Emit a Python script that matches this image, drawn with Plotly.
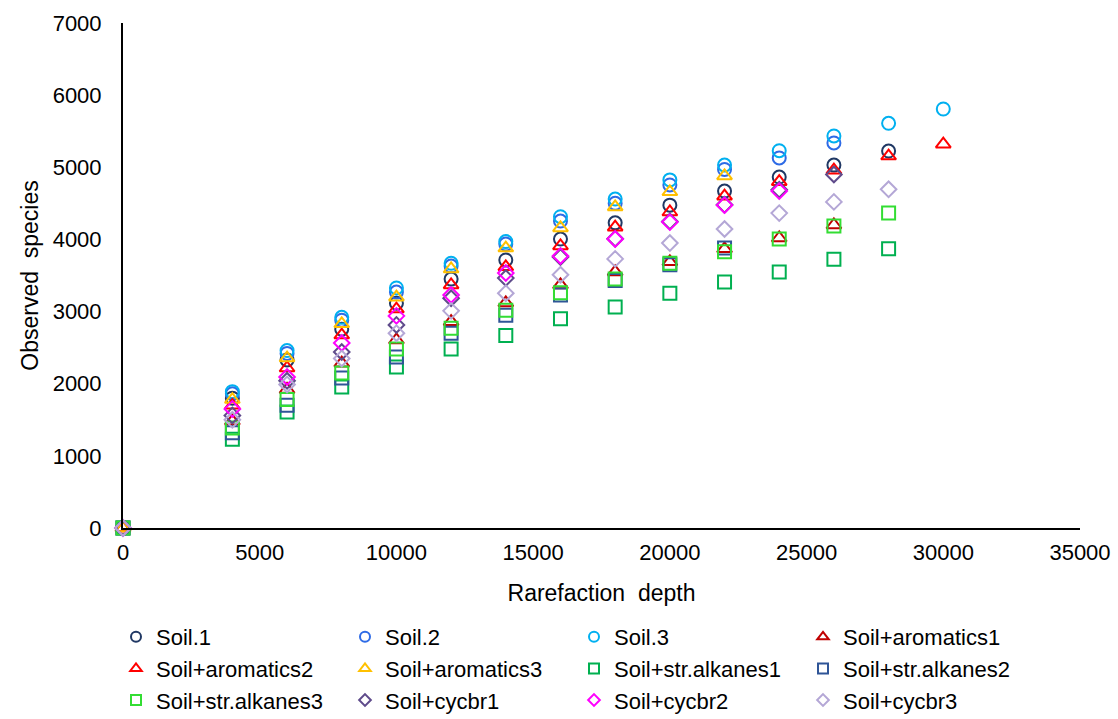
import plotly.graph_objects as go

depths = [0, 4000, 6000, 8000, 10000, 12000, 14000, 16000, 18000, 20000, 22000, 24000, 26000, 28000, 30000]

names = ["Soil.1", "Soil.2", "Soil.3", "Soil+aromatics1", "Soil+aromatics2", "Soil+aromatics3",
         "Soil+str.alkanes1", "Soil+str.alkanes2", "Soil+str.alkanes3",
         "Soil+cycbr1", "Soil+cycbr2", "Soil+cycbr3"]

soil1 = [0, 1800, 2330, 2756, 3115, 3450, 3715, 4005, 4230, 4475, 4670, 4865, 5030, 5225]
soil2 = [0, 1860, 2420, 2880, 3270, 3630, 3935, 4255, 4500, 4755, 4970, 5130, 5337]
soil3 = [0, 1890, 2460, 2920, 3327, 3670, 3970, 4315, 4560, 4825, 5030, 5230, 5434, 5610, 5808]
arom1 = [0, 1480, 1920, 2285, 2606, 2860, 3120, 3370, 3550, 3690, 3870, 4020, 4200]
arom2 = [0, 1700, 2218, 2675, 3035, 3370, 3620, 3910, 4170, 4380, 4600, 4800, 4960, 5155, 5320]
arom3 = [0, 1780, 2356, 2830, 3200, 3590, 3880, 4160, 4450, 4660, 4880]
alk1 = [0, 1230, 1608, 1955, 2230, 2480, 2670, 2900, 3065, 3255, 3410, 3550, 3725, 3870]
alk2 = [0, 1320, 1700, 2080, 2370, 2700, 2950, 3230, 3430, 3650, 3880]
alk3 = [0, 1385, 1780, 2150, 2480, 2770, 3020, 3260, 3450, 3670, 3830, 4005, 4185, 4365]
cyc1 = [0, 1560, 2040, 2440, 2815, 3185, 3465, 3755, 4010, 4250, 4480, 4690, 4900]
cyc2 = [0, 1650, 2093, 2564, 2940, 3230, 3535, 3770, 4005, 4240, 4475, 4670]
cyc3 = [0, 1500, 1990, 2350, 2700, 3010, 3255, 3510, 3730, 3950, 4145, 4365, 4520, 4695]

x_ticks = [0, 5000, 10000, 15000, 20000, 25000, 30000, 35000]
y_ticks = [0, 1000, 2000, 3000, 4000, 5000, 6000, 7000]

series = [soil1, soil2, soil3, arom1, arom2, arom3, alk1, alk2, alk3, cyc1, cyc2, cyc3]
colors = ["#203864", "#2E6BE6", "#00B0F0", "#C00000", "#FF0000", "#FFC000",
          "#00B050", "#2F5597", "#33DD33", "#5F4B8B", "#FF00FF", "#B4A7D6"]
symbols = ["circle-open"] * 3 + ["triangle-up-open"] * 3 + ["square-open"] * 3 + ["diamond-open"] * 3
sizes = [13] * 3 + [13] * 3 + [13] * 3 + [12] * 3
leg_sizes = [10] * 3 + [10] * 3 + [10] * 3 + [9] * 3

fig = go.Figure()
for name, vals, col, sym, sz in zip(names, series, colors, symbols, sizes):
    fig.add_trace(go.Scatter(
        x=depths[:len(vals)], y=vals, mode="markers", name=name, showlegend=False,
        marker=dict(symbol=sym, size=sz, color=col, line=dict(color=col, width=2)),
        cliponaxis=False,
    ))
# legend-only entries with smaller symbols
for name, col, sym, sz in zip(names, colors, symbols, leg_sizes):
    fig.add_trace(go.Scatter(
        x=[None], y=[None], mode="markers", name=name, showlegend=True,
        marker=dict(symbol=sym, size=sz, color=col, line=dict(color=col, width=2)),
    ))

font_family = "Liberation Sans, Arial, sans-serif"
fig.update_layout(
    width=1118, height=719,
    margin=dict(l=123, r=38, t=23, b=191, autoexpand=False),
    paper_bgcolor="white", plot_bgcolor="white",
    font=dict(family=font_family, size=23, color="#000000"),
    showlegend=True,
    legend=dict(orientation="h", xref="container", yref="container",
                x=116 / 1118, xanchor="left", y=1 - 616 / 719, yanchor="top",
                entrywidth=184, entrywidthmode="pixels", traceorder="normal",
                font=dict(size=22, color="#000000"), itemwidth=30, tracegroupgap=0),
    xaxis=dict(range=[0, 35000], tickvals=x_ticks, ticktext=[str(v) for v in x_ticks],
               showgrid=False, zeroline=False, showline=True, linecolor="#000000", linewidth=2,
               ticks="", ticklabelstandoff=4, tickfont=dict(size=22), automargin=False,
               title=dict(text="Rarefaction\u00a0 depth", font=dict(size=23), standoff=20)),
    yaxis=dict(range=[0, 7000], tickvals=y_ticks, ticktext=[str(v) for v in y_ticks],
               showgrid=False, zeroline=False, showline=True, linecolor="#000000", linewidth=2,
               ticks="", ticklabelstandoff=15, tickfont=dict(size=22), automargin=False,
               title=dict(text="Observed\u00a0 species", font=dict(size=23), standoff=8)),
)

fig.write_html("out.html")
